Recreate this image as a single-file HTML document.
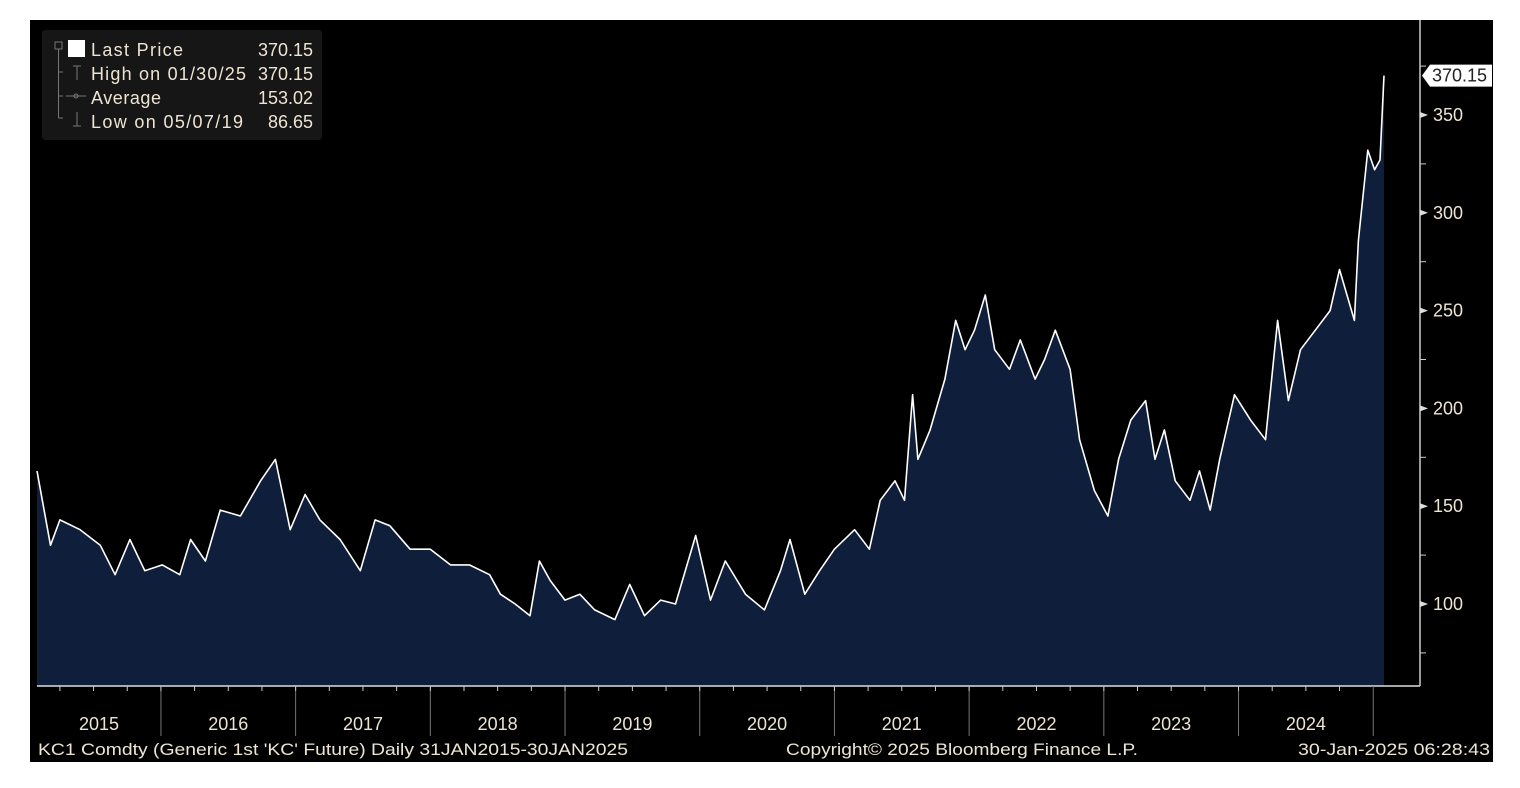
<!DOCTYPE html>
<html><head><meta charset="utf-8"><style>
html,body{margin:0;padding:0;background:#fff;}
svg{display:block;font-family:"Liberation Sans",sans-serif;}
</style></head><body>
<svg id="chart" width="1520" height="788" viewBox="0 0 1520 788">
<rect x="30" y="20" width="1463" height="742" fill="#000"/>
<g id="plot"></g>
<g id="yaxis"></g>
<g id="xaxis"></g>
<g>
<rect x="42" y="30" width="280" height="110" fill="#161616" rx="3"/>
<g stroke="#777" fill="none" stroke-width="1">
<rect x="55" y="42" width="7" height="7"/>
<path d="M58.5 49 V118 M58.5 72 H63 M58.5 96 H63 M58.5 118 H63"/>
<path d="M73 66 H81 M77 66 V80"/>
<path d="M66 96 H86"/><circle cx="76" cy="96" r="2"/>
<path d="M77 112 V126 M73 126 H81"/>
</g>
<rect x="68" y="40" width="17" height="17" fill="#fff"/>
<g fill="#ede4d2" font-size="18">
<text x="91" y="56" textLength="92">Last Price</text>
<text x="313" y="56" text-anchor="end">370.15</text>
<text x="91" y="80" textLength="155">High on 01/30/25</text>
<text x="313" y="80" text-anchor="end">370.15</text>
<text x="91" y="104" textLength="70">Average</text>
<text x="313" y="104" text-anchor="end">153.02</text>
<text x="91" y="128" textLength="152">Low on 05/07/19</text>
<text x="313" y="128" text-anchor="end">86.65</text>
</g>
</g>
<g fill="#ede4d2" font-size="17">
<text x="38" y="755" textLength="590" lengthAdjust="spacingAndGlyphs">KC1 Comdty (Generic 1st 'KC' Future)  Daily 31JAN2015-30JAN2025</text>
<text x="786" y="755" textLength="352" lengthAdjust="spacingAndGlyphs">Copyright© 2025 Bloomberg Finance L.P.</text>
<text x="1298" y="755" textLength="192" lengthAdjust="spacingAndGlyphs">30-Jan-2025 06:28:43</text>
</g>
</svg>
<script>
const dates=[2015.08,2015.18,2015.25,2015.40,2015.55,2015.66,2015.77,2015.88,2016.01,2016.14,2016.22,2016.33,2016.44,2016.59,2016.74,2016.85,2016.96,2017.07,2017.18,2017.33,2017.48,2017.59,2017.70,2017.85,2018.00,2018.15,2018.29,2018.44,2018.52,2018.63,2018.74,2018.81,2018.89,2019.00,2019.11,2019.22,2019.37,2019.48,2019.59,2019.71,2019.82,2019.97,2020.08,2020.19,2020.34,2020.48,2020.60,2020.67,2020.78,2020.89,2021.00,2021.15,2021.26,2021.34,2021.45,2021.52,2021.58,2021.62,2021.71,2021.82,2021.90,2021.97,2022.04,2022.12,2022.19,2022.30,2022.38,2022.49,2022.56,2022.64,2022.75,2022.82,2022.93,2023.03,2023.11,2023.20,2023.31,2023.38,2023.45,2023.53,2023.64,2023.71,2023.79,2023.86,2023.97,2024.09,2024.20,2024.29,2024.37,2024.46,2024.57,2024.68,2024.75,2024.86,2024.89,2024.96,2025.01,2025.05,2025.08];
const prices=[168,130,143,138,130,115,133,117,120,115,133,122,148,145,163,174,138,156,143,133,117,143,140,128,128,120,120,115,105,100,94,122,112,102,105,97,92,110,94,102,100,135,102,122,105,97,117,133,105,117,128,138,128,153,163,153,207,174,189,215,245,230,240,258,230,220,235,215,225,240,220,184,158,145,174,194,204,174,189,163,153,168,148,174,207,194,184,245,204,230,240,250,271,245,286,332,322,327,370.15];
const yTicks=[100,150,200,250,300,350];
const yMinor=[75,125,175,225,275,325,375];
const years=[2015,2016,2017,2018,2019,2020,2021,2022,2023,2024];

const NS='http://www.w3.org/2000/svg';
const X0=37,X1=1384,T0=2015.08,T1=2025.08;
const xs=d=>X0+(d-T0)/(T1-T0)*(X1-X0);
const ys=v=>604-(v-100)*1.956;
const BOT=686,AX=1420;
function mk(tag,attrs,parent){const e=document.createElementNS(NS,tag);for(const k in attrs)e.setAttribute(k,attrs[k]);parent.appendChild(e);return e;}

const plot=document.getElementById('plot');
let pts=dates.map((d,i)=>xs(d).toFixed(1)+','+ys(prices[i]).toFixed(1));
const area=mk('path',{d:'M'+xs(dates[0])+','+BOT+' L'+pts.join(' L')+' L'+xs(dates[dates.length-1])+','+BOT+' Z',fill:'#0f1f3b'},plot);


const line=mk('path',{d:'M'+pts.join(' L'),fill:'none',stroke:'#fff','stroke-width':1.6,'stroke-linejoin':'round'},plot);



const ya=document.getElementById('yaxis');
mk('line',{x1:AX,y1:20,x2:AX,y2:BOT,stroke:'#ccc','stroke-width':1.5},ya);
yMinor.forEach(v=>{const y=ys(v);if(y>20&&y<BOT)mk('line',{x1:AX,y1:y,x2:AX+6,y2:y,stroke:'#ccc'},ya);});
yTicks.forEach(v=>{const y=ys(v);
 mk('path',{d:`M${AX} ${y-3} L${AX+8} ${y} L${AX} ${y+3}Z`,fill:'#ddd'},ya);
 const t=mk('text',{x:AX+13,y:y+6,fill:'#ede4d2','font-size':18},ya);t.textContent=v;
 
 
});
const last=prices[prices.length-1],ly=ys(last);
const tag=mk('path',{d:`M${AX+2} ${ly} L${AX+10} ${ly-11} H1492 V${ly+11} H${AX+10}Z`,fill:'#fff'},ya);


const lt=mk('text',{x:AX+12,y:ly+6,fill:'#222','font-size':18},ya);lt.textContent=last.toFixed(2);

const xa=document.getElementById('xaxis');
mk('line',{x1:X0,y1:BOT,x2:AX,y2:BOT,stroke:'#ddd','stroke-width':1.5},xa);
years.forEach(yr=>{
 for(let q=0;q<4;q++){const x=xs(yr+q*0.25);if(x>X0&&x<AX)mk('line',{x1:x,y1:BOT,x2:x,y2:BOT+5,stroke:'#ccc'},xa);}
 const xb=xs(yr+1);
 if(xb<AX)mk('line',{x1:xb,y1:BOT,x2:xb,y2:736,stroke:'#777'},xa);
 const xc=(Math.max(xs(yr),X0)+Math.min(xb,1374))/2;
 const t=mk('text',{x:yr==2015?99:xc,y:730,fill:'#ede4d2','font-size':18,'text-anchor':'middle'},xa);t.textContent=yr;
 
 
});
</script>
</body></html>
